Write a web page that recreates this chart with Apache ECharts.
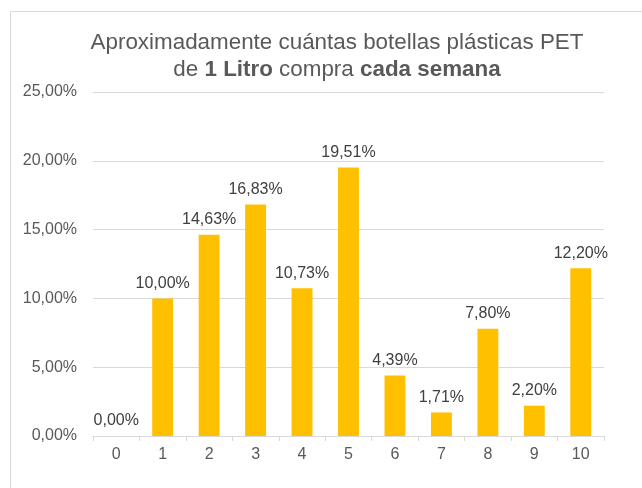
<!DOCTYPE html>
<html>
<head>
<meta charset="utf-8">
<script src="https://cdn.jsdelivr.net/npm/echarts@6/dist/echarts.min.js"></script>
<style>
  html, body { margin: 0; padding: 0; background: #fff; }
  #box { width: 642px; height: 488px; }
</style>
</head>
<body>
<div id="box"></div>
<script>
  // datos del gráfico
  const categories = ['0', '1', '2', '3', '4', '5', '6', '7', '8', '9', '10'];
  const percentages = [0, 10.00, 14.63, 16.83, 10.73, 19.51, 4.39, 1.71, 7.80, 2.20, 12.20];
  const yTicks = [0, 5, 10, 15, 20, 25];

  const fmt = v => v.toFixed(2).replace('.', ',') + '%';

  var myChart = echarts.init(document.getElementById('box'));
  var option = {
    animation: false,
    textStyle: { fontFamily: 'Liberation Sans, Arial, sans-serif' },
    graphic: [{
      type: 'rect',
      shape: { x: 10.5, y: 11.5, width: 660, height: 500 },
      style: { fill: 'none', stroke: '#d9d9d9', lineWidth: 1 },
      silent: true
    }],
    title: {
      left: 332,
      top: 24,
      textAlign: 'center',
      text: '{n|Aproximadamente cuántas botellas plásticas PET}\n{n|de }{b|1 Litro}{n| compra }{b|cada semana}',
      textStyle: {
        fontWeight: 'normal',
        rich: {
          n: { fontSize: 22.4, color: '#595959', fontWeight: 'normal', lineHeight: 27, fontFamily: 'Liberation Sans' },
          b: { fontSize: 22.4, color: '#595959', fontWeight: 'bold', lineHeight: 27, fontFamily: 'Liberation Sans' }
        }
      }
    },
    grid: { left: 93, right: 38, top: 92, bottom: 52 },
    xAxis: {
      type: 'category',
      data: categories,
      axisLine: { lineStyle: { color: '#d9d9d9' } },
      axisTick: { show: true, lineStyle: { color: '#d9d9d9' }, length: 5 },
      axisLabel: { color: '#595959', fontSize: 16, margin: 11 }
    },
    yAxis: {
      type: 'value',
      min: yTicks[0],
      max: yTicks[yTicks.length - 1],
      interval: 5,
      axisLine: { show: false },
      axisTick: { show: false },
      splitLine: { lineStyle: { color: '#d9d9d9' } },
      axisLabel: { color: '#595959', fontSize: 16, margin: 16, formatter: v => fmt(v) }
    },
    series: [{
      type: 'bar',
      data: percentages,
      barWidth: '45%',
      itemStyle: { color: '#FFC000' },
      label: {
        show: true,
        position: 'top',
        distance: 7,
        color: '#404040',
        fontSize: 16,
        formatter: p => fmt(p.value)
      }
    }]
  };
  myChart.setOption(option);
</script>
</body>
</html>
